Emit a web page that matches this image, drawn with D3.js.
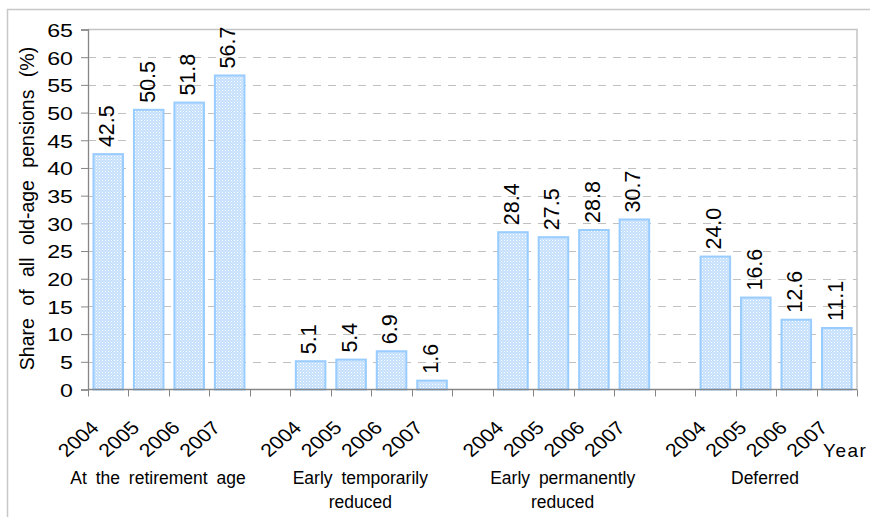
<!DOCTYPE html>
<html>
<head>
<meta charset="utf-8">
<script src="https://cdn.jsdelivr.net/npm/d3@7"></script>
<style>
	body { margin: 0; background: #fff; }
	svg { display: block; font-family: "Liberation Sans", Arial, sans-serif; }
</style>
</head>
<body>
<div class="c-svg"></div>
<script>
//DATA
//-------------------------------------------------------------------------

const years = ["2004", "2005", "2006", "2007"];
const groupLines = [
	["At the retirement age"],
	["Early temporarily", "reduced"],
	["Early permanently", "reduced"],
	["Deferred"]
];
const atRetirementAge = [42.5, 50.5, 51.8, 56.7];
const earlyTemporarilyReduced = [5.1, 5.4, 6.9, 1.6];
const earlyPermanentlyReduced = [28.4, 27.5, 28.8, 30.7];
const deferred = [24.0, 16.6, 12.6, 11.1];
const yTicks = [0, 5, 10, 15, 20, 25, 30, 35, 40, 45, 50, 55, 60, 65];
const yTitle = "Share of all old-age pensions (%)";
const xTitle = "Year";

const seriesByGroup = [atRetirementAge, earlyTemporarilyReduced, earlyPermanentlyReduced, deferred];


//INITIALISATION
//-------------------------------------------------------------------------

const opts = {
	width: 870,
	height: 517,
	plot: { left: 88, right: 857, top: 29.5, bottom: 389.5 }
};

//one slot per bar, plus an empty slot between groups
const slots = [];
const bars = [];
seriesByGroup.forEach((values, gi)=>{
	if (gi > 0) slots.push("gap" + gi);
	years.forEach((yr, i)=>{
		const key = gi + "-" + yr;
		slots.push(key);
		bars.push({ key: key, group: gi, year: yr, value: values[i] });
	});
});

const svg = d3.select(".c-svg")
	.append("svg")
	.attr("width", opts.width)
	.attr("height", opts.height);

//dotted fill like the original bars
const defs = svg.append("defs");
const pat = defs.append("pattern")
	.attr("id", "dots")
	.attr("patternUnits", "userSpaceOnUse")
	.attr("width", 3)
	.attr("height", 3);
pat.append("rect").attr("width", 3).attr("height", 3).attr("fill", "#c4e0fd");
pat.append("rect").attr("x", 0).attr("y", 0).attr("width", 1).attr("height", 1).attr("fill", "#ffffff");
pat.append("rect").attr("x", 1.5).attr("y", 1.5).attr("width", 1).attr("height", 1).attr("fill", "#eef6ff");

//outer chart frame
svg.append("rect")
	.attr("x", 7.5)
	.attr("y", 9.5)
	.attr("width", 880)
	.attr("height", 530)
	.attr("fill", "none")
	.attr("stroke", "#c8c8c8")
	.attr("stroke-width", 1.5);


//SCALES
//-------------------------------------------------------------------------

const x = d3.scaleBand()
	.domain(slots)
	.range([opts.plot.left, opts.plot.right])
	.paddingInner(0.27)
	.paddingOuter(0.135);

const y = d3.scaleLinear()
	.domain([0, 65])
	.range([opts.plot.bottom, opts.plot.top]);

const step = x.step();
const slotStart = (k)=>{ return x(k) - x.paddingInner() * step / 2; };


//GRID + FRAME
//-------------------------------------------------------------------------

svg.append("g")
	.selectAll("line")
	.data(yTicks.filter((t)=>{ return t > 0 && t < 65; }))
	.join("line")
	.attr("x1", opts.plot.left)
	.attr("x2", opts.plot.right)
	.attr("y1", (d)=>{ return Math.round(y(d)) + 0.5; })
	.attr("y2", (d)=>{ return Math.round(y(d)) + 0.5; })
	.attr("stroke", "#c0c0c0")
	.attr("stroke-dasharray", "8,7");

svg.append("path")
	.attr("d", `M${opts.plot.left},${opts.plot.top}H${opts.plot.right}V${opts.plot.bottom}`)
	.attr("fill", "none")
	.attr("stroke", "#c4c4c4")
	.attr("stroke-width", 1.5);


//BARS
//-------------------------------------------------------------------------

svg.append("g")
	.selectAll("rect")
	.data(bars)
	.join("rect")
	.attr("x", (d)=>{ return x(d.key); })
	.attr("width", x.bandwidth())
	.attr("y", (d)=>{ return y(d.value); })
	.attr("height", (d)=>{ return y(0) - y(d.value); })
	.attr("fill", "url(#dots)")
	.attr("stroke", "#99ccff")
	.attr("stroke-width", 2);

//value labels
svg.append("g")
	.selectAll("text")
	.data(bars)
	.join("text")
	.attr("transform", (d)=>{ return `translate(${x(d.key) + x.bandwidth() / 2} ${y(d.value) - 7}) rotate(-90)`; })
	.attr("dy", "0.27em")
	.attr("font-size", 21.5)
	.attr("fill", "#000")
	.text((d)=>{ return d.value.toFixed(1); });


//AXES
//-------------------------------------------------------------------------

const yAxis = d3.axisLeft(y)
	.tickValues(yTicks)
	.tickSize(7)
	.tickFormat(d3.format("d"));

const gy = svg.append("g")
	.attr("transform", `translate(${opts.plot.left} 0)`)
	.call(yAxis);
gy.select(".domain").attr("stroke", "#868686").attr("stroke-width", 1.3);
gy.selectAll(".tick line").attr("stroke", "#868686");
gy.selectAll(".tick text")
	.attr("font-family", null)
	.attr("font-size", 19)
	.attr("fill", "#000")
	.attr("x", -15 / 1.22)
	.attr("dy", "0.36em")
	.attr("transform", "scale(1.22 1)");

//bottom axis line and slot ticks
const bounds = slots.map(slotStart).concat([opts.plot.right]);
const gx = svg.append("g");
gx.append("line")
	.attr("x1", opts.plot.left)
	.attr("x2", opts.plot.right)
	.attr("y1", opts.plot.bottom)
	.attr("y2", opts.plot.bottom)
	.attr("stroke", "#868686")
	.attr("stroke-width", 1.3);
gx.selectAll(".slot-tick")
	.data(bounds)
	.join("line")
	.attr("class", "slot-tick")
	.attr("x1", (d)=>{ return Math.round(d) + 0.5; })
	.attr("x2", (d)=>{ return Math.round(d) + 0.5; })
	.attr("y1", opts.plot.bottom)
	.attr("y2", opts.plot.bottom + 7)
	.attr("stroke", "#868686");

//year labels, rotated
gx.selectAll(".year")
	.data(bars)
	.join("text")
	.attr("class", "year")
	.attr("text-anchor", "end")
	.attr("font-size", 18.5)
	.attr("transform", (d)=>{ return `translate(${x(d.key) + x.bandwidth() / 2 - 8} 429) scale(1.15 1) rotate(-45)`; })
	.text((d)=>{ return d.year; });

//group labels
const groupCenter = (gi)=>{
	const first = x(gi + "-" + years[0]);
	const last = x(gi + "-" + years[years.length - 1]) + x.bandwidth();
	return (first + last) / 2 - 11;
};

const gl = svg.append("g")
	.selectAll("text")
	.data(groupLines)
	.join("text")
	.attr("text-anchor", "middle")
	.attr("font-size", 17.5)
	.attr("word-spacing", 4)
	.attr("x", (d, i)=>{ return groupCenter(i); })
	.attr("y", 484);

gl.selectAll("tspan")
	.data((d)=>{ return d; })
	.join("tspan")
	.attr("x", function(){ return this.parentNode.getAttribute("x"); })
	.attr("dy", (d, i)=>{ return i === 0 ? 0 : 24; })
	.text((d)=>{ return d; });

//axis titles
svg.append("text")
	.attr("x", 823)
	.attr("y", 457)
	.attr("font-size", 19)
	.attr("letter-spacing", 1.5)
	.text(xTitle);

svg.append("text")
	.attr("transform", `translate(34 ${(opts.plot.top + opts.plot.bottom) / 2 - 1}) rotate(-90)`)
	.attr("text-anchor", "middle")
	.attr("font-size", 19.5)
	.attr("word-spacing", 7)
	.text(yTitle);
</script>
</body>
</html>
